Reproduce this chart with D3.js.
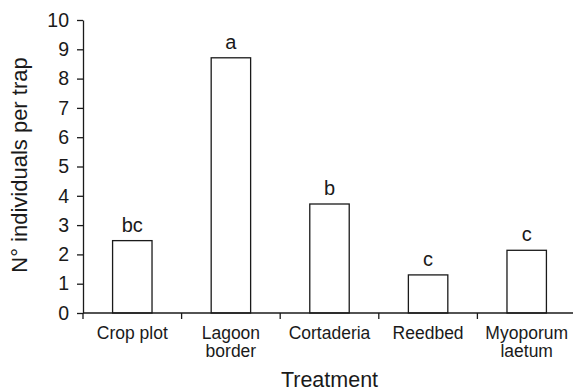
<!DOCTYPE html>
<html>
<head>
<meta charset="utf-8">
<script src="https://cdn.jsdelivr.net/npm/d3@7"></script>
<style>
  body { margin: 0; background: #fff; }
  svg { display: block; font-family: "Liberation Sans", Arial, sans-serif; }
  .axis path, .axis line { stroke: #1a1a1a; stroke-width: 1.3px; }
  .axis text { fill: #1a1a1a; }
</style>
</head>
<body>
<svg class="chart"></svg>
<script>
const treatments = [["Crop plot"], ["Lagoon", "border"], ["Cortaderia"], ["Reedbed"], ["Myoporum", "laetum"]]
const meanPerTrap = [2.47, 8.71, 3.72, 1.3, 2.14]
const groupLetters = ["bc", "a", "b", "c", "c"]
const yTicks = [0, 1, 2, 3, 4, 5, 6, 7, 8, 9, 10]

const W = 573, H = 391
const margin = { top: 20, left: 83, right: -3, bottom: 78 }
const width = W - margin.left - margin.right,
      height = H - margin.top - margin.bottom

const svg = d3.select(".chart")
    .attr("width", W)
    .attr("height", H)

const g = svg.append("g")
    .attr("transform", "translate(" + margin.left + "," + margin.top + ")")

const keys = treatments.map(d => d.join(" "))

const x = d3.scaleBand()
    .domain(keys)
    .range([0, width])
    .paddingInner(0.6)
    .paddingOuter(0.3)

const y = d3.scaleLinear()
    .domain([0, 10])
    .range([height, 0])

// bars
g.selectAll(".bar")
  .data(meanPerTrap)
  .enter()
  .append("rect")
    .attr("class", "bar")
    .attr("x", (d, i) => x(keys[i]))
    .attr("y", d => y(d))
    .attr("width", x.bandwidth())
    .attr("height", d => y(0) - y(d))
    .attr("fill", "#fff")
    .attr("stroke", "#1a1a1a")
    .attr("stroke-width", 1.3)

// significance letters
g.selectAll(".letter")
  .data(meanPerTrap)
  .enter()
  .append("text")
    .attr("class", "letter")
    .attr("x", (d, i) => x(keys[i]) + x.bandwidth() / 2)
    .attr("y", d => y(d) - 9)
    .attr("text-anchor", "middle")
    .attr("fill", "#1a1a1a")
    .style("font-size", "20px")
    .text((d, i) => groupLetters[i])

// y axis
const yAxis = g.append("g")
    .attr("class", "axis")
    .call(d3.axisLeft(y).tickValues(yTicks).tickSize(6).tickPadding(8).tickSizeOuter(0))
yAxis.selectAll("text").style("font-size", "19.5px")

// x axis, ticks sit between categories
const step = x.step()
const xAxis = g.append("g")
    .attr("class", "axis")
    .attr("transform", "translate(0," + height + ")")
xAxis.append("line")
    .attr("x1", 0).attr("x2", width)
    .attr("y1", 0).attr("y2", 0)
xAxis.selectAll(".tick")
  .data(keys)
  .enter()
  .append("line")
    .attr("x1", (d, i) => i * step)
    .attr("x2", (d, i) => i * step)
    .attr("y1", 0)
    .attr("y2", 6)

const catLabel = xAxis.selectAll(".cat")
  .data(treatments)
  .enter()
  .append("text")
    .attr("class", "cat")
    .attr("text-anchor", "middle")
    .attr("x", (d, i) => x(keys[i]) + x.bandwidth() / 2)
    .attr("y", 26)
    .style("font-size", "17.5px")
catLabel.selectAll("tspan")
  .data(d => d)
  .enter()
  .append("tspan")
    .attr("x", function () { return this.parentNode.getAttribute("x") })
    .attr("dy", (d, i) => i ? 18 : 0)
    .text(d => d)

// axis titles
svg.append("text")
    .attr("x", margin.left + width / 2)
    .attr("y", 387)
    .attr("text-anchor", "middle")
    .attr("fill", "#1a1a1a")
    .style("font-size", "21.5px")
    .text("Treatment")

svg.append("text")
    .attr("transform", "translate(27," + 165 + ") rotate(-90)")
    .attr("text-anchor", "middle")
    .attr("fill", "#1a1a1a")
    .style("font-size", "22px")
    .text("N° individuals per trap")
</script>
</body>
</html>
